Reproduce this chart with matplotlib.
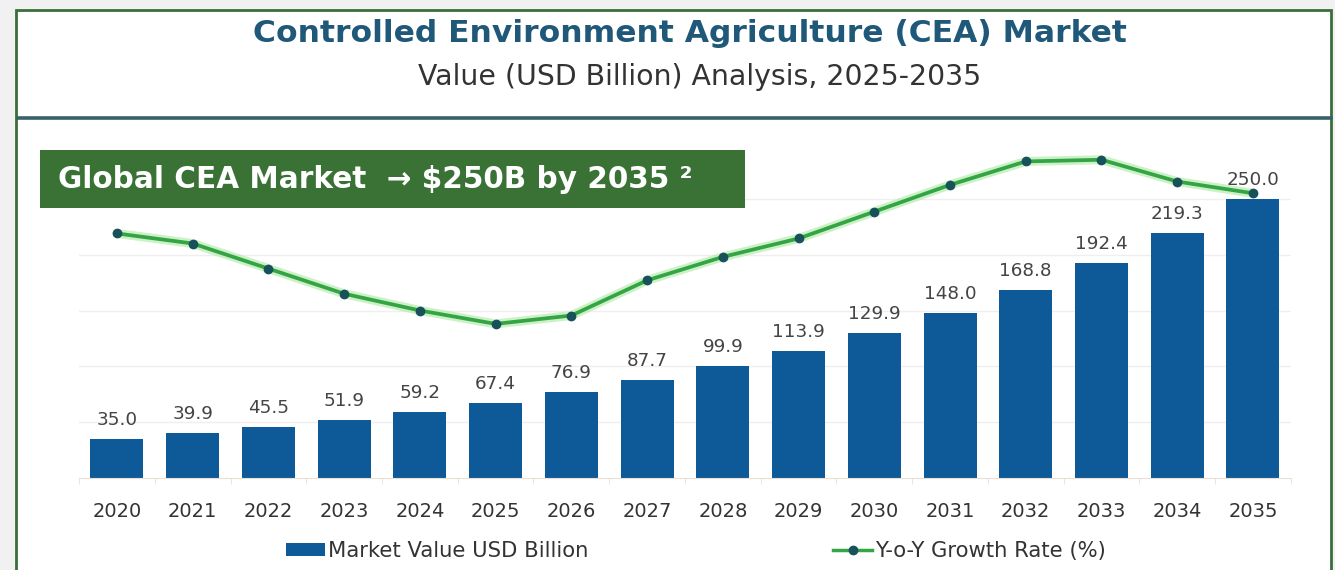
import matplotlib
matplotlib.use("Agg")
import matplotlib.pyplot as plt
from matplotlib.patches import Rectangle, Patch
from matplotlib.lines import Line2D
import numpy as np

years = ["2020", "2021", "2022", "2023", "2024", "2025", "2026", "2027",
         "2028", "2029", "2030", "2031", "2032", "2033", "2034", "2035"]
market_value = [35.0, 39.9, 45.5, 51.9, 59.2, 67.4, 76.9, 87.7,
                99.9, 113.9, 129.9, 148.0, 168.8, 192.4, 219.3, 250.0]
yoy_growth = [14.6, 14.0, 12.5, 11.0, 10.0, 9.2, 9.7, 11.8,
              13.2, 14.3, 15.9, 17.5, 18.9, 19.0, 17.7, 17.0]

title = "Controlled Environment Agriculture (CEA) Market"
subtitle = "Value (USD Billion) Analysis, 2025-2035"
banner = "Global CEA Market  \u2192 $250B by 2035 \u00b2"
legend_labels = ["Market Value USD Billion", "Y-o-Y Growth Rate (%)"]

W, H = 1335, 570
fig = plt.figure(figsize=(W / 100, H / 100), dpi=100)
fig.patch.set_facecolor("#f1f1f1")
FONT = ["DejaVu Sans"]
renderer = fig.canvas.get_renderer()

def fx(x):
    return x / W

def fy(y):
    return 1 - y / H

def fit_width(t, target_px):
    w = t.get_window_extent(renderer=renderer).width
    t.set_fontsize(t.get_fontsize() * target_px / w)

# white panel with green frame
fig.patches.append(Rectangle((fx(16), fy(575)), fx(1331) - fx(16), fy(10) - fy(575),
                             transform=fig.transFigure, facecolor="white",
                             edgecolor="#3a6e3a", linewidth=2, zorder=-3))
# divider line
fig.lines.append(Line2D([fx(18), fx(1331)], [fy(118), fy(118)], transform=fig.transFigure,
                        color="#35626b", linewidth=2.6, zorder=-2))

t1 = fig.text(fx(690), fy(34), title, ha="center", va="center", fontsize=20,
              fontweight="bold", color="#1f5878", family=FONT)
fit_width(t1, 876)
t2 = fig.text(fx(700), fy(77), subtitle, ha="center", va="center", fontsize=17,
              color="#333333", family=FONT)
fit_width(t2, 565)

# axes
ax = fig.add_axes([fx(79.1), fy(478), fx(1211.7), 335 / H])
ax.set_facecolor("none")
ax.set_zorder(1)
x = np.arange(len(years))
bars = ax.bar(x, market_value, width=0.7, color="#0e5a98", zorder=2)
for xi, v in zip(x, market_value):
    ax.text(xi, v + 17, f"{v:.1f}", ha="center", va="center", fontsize=13.2,
            color="#444444", family=FONT, zorder=3)
ax.set_xlim(-0.5, len(years) - 0.5)
ax.set_ylim(0, 300)
ax.set_yticks([50, 100, 150, 200, 250])
ax.yaxis.grid(True, color="#efefef", linewidth=1)
ax.set_axisbelow(True)
ax.set_xticks(x)
ax.set_xticklabels(years, fontsize=14, color="#333333", family=FONT)
ax.tick_params(axis="x", length=0, pad=17)
ax.set_xticks(np.arange(-0.5, len(years)), minor=True)
ax.tick_params(axis="x", which="minor", length=4, color="#eadfd6")
for s in ["top", "right", "left"]:
    ax.spines[s].set_visible(False)
ax.spines["bottom"].set_color("#eadfd6")

ax2 = ax.twinx()
ax2.set_ylim(0, 20)
ax2.plot(x, yoy_growth, color="#b8ecb0", linewidth=6.5, alpha=0.7, solid_capstyle="round", zorder=3)
ax2.plot(x, yoy_growth, color="#33a544", linewidth=2.7, marker="o", markersize=6,
         markerfacecolor="#17515a", markeredgecolor="#17515a", zorder=4)
ax2.axis("off")
ax.tick_params(axis="y", which="both", left=False, right=False, labelleft=False, labelright=False)

handles = [Patch(facecolor="#0e5a98", edgecolor="none"),
           Line2D([], [], color="#33a544", linewidth=2.5, marker="o", markersize=6,
                  markerfacecolor="#17515a", markeredgecolor="#17515a")]
fig.legend(handles, legend_labels, loc="center", bbox_to_anchor=(fx(696), fy(551)),
           ncol=2, frameon=False, columnspacing=11.6, handlelength=1.83,
           handleheight=0.5, handletextpad=0.15, prop={"family": FONT, "size": 15.2},
           labelcolor="#333333", borderpad=0)

# banner
fig.patches.append(Rectangle((fx(40), fy(208)), fx(705), 58 / H, transform=fig.transFigure,
                             facecolor="#3a7236", edgecolor="none", zorder=5))
t3 = fig.text(fx(58), fy(180), banner, ha="left", va="center", fontsize=20, fontweight="bold",
              color="white", family=FONT, zorder=6)
fit_width(t3, 634)

fig.savefig("out.png", dpi=100, facecolor=fig.get_facecolor())
